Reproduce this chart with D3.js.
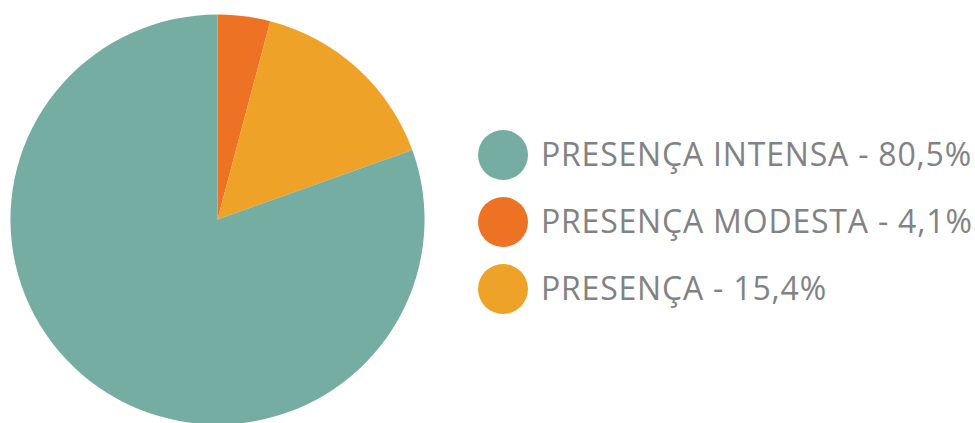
<!DOCTYPE html>
<html><head><meta charset="utf-8">
<script src="https://cdn.jsdelivr.net/npm/d3@7"></script>
<style>html,body{margin:0;padding:0;background:#fff;}</style>
</head><body>
<svg id="c" width="975" height="423"></svg>
<script>
const categories = ["PRESENÇA MODESTA", "PRESENÇA", "PRESENÇA INTENSA"];
const values = [4.1, 15.4, 80.5];
const colors = ["#ee7224", "#efa228", "#75ada3"];
const legendOrder = ["PRESENÇA INTENSA", "PRESENÇA MODESTA", "PRESENÇA"];
const legendLabels = ["PRESENÇA INTENSA - 80,5%", "PRESENÇA MODESTA - 4,1%", "PRESENÇA - 15,4%"];

const svg = d3.select("#c");
const color = d3.scaleOrdinal().domain(categories).range(colors);
const data = categories.map((c, i) => ({cat: c, v: values[i]}));
const pie = d3.pie().value(d => d.v).sort(null);
const arc = d3.arc().innerRadius(0).outerRadius(205);

const g = svg.append("g").attr("transform", "translate(217.5,219.5) scale(1.01,1)");
g.selectAll("path").data(pie(data)).join("path")
  .attr("d", arc)
  .attr("fill", d => color(d.data.cat));

const ly = d3.scalePoint().domain(legendOrder).range([155, 289]);
const lg = svg.append("g");
legendOrder.forEach((c, i) => {
  lg.append("circle").attr("cx", 503).attr("cy", ly(c)).attr("r", 25).attr("fill", color(c));
  lg.append("text").attr("x", 541).attr("y", ly(c) + 11)
    .attr("font-family", "Open Sans").attr("font-size", 32)
    .attr("letter-spacing", 0.8)
    .attr("fill", "#808285")
    .text(legendLabels[i]);
});
</script>
</body></html>
